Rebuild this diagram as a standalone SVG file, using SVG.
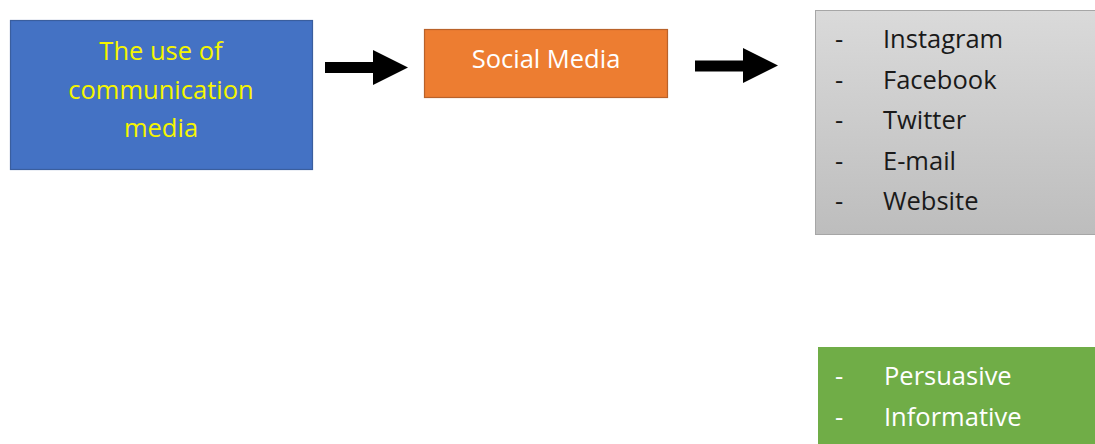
<svg xmlns="http://www.w3.org/2000/svg" width="1095" height="444" viewBox="0 0 1095 444">
<style>
text{font-family:"Open Sans","Liberation Sans",sans-serif;font-size:25.5px}
.c{text-anchor:middle}
.yel{fill:#F5F500}
.wht{fill:#FFFFFF}
.blk{fill:#1A1A1A}
</style>
<defs>
<linearGradient id="gray" x1="0" y1="0" x2="0" y2="1">
<stop offset="0" stop-color="#DADADA"/>
<stop offset="1" stop-color="#BDBDBD"/>
</linearGradient>
</defs>
<rect width="1095" height="444" fill="#FFFFFF"/>
<g id="node-communication">
<rect x="10.5" y="20.5" width="302" height="149" fill="#4472C4" stroke="#3A5E9E" stroke-width="1.2"/>
<text class="c yel" x="161" y="60">The use of</text>
<text class="c yel" x="161" y="99">communication</text>
<text class="c yel" x="161" y="137">media</text>
</g>
<g id="node-social">
<rect x="424.5" y="29.5" width="243" height="68" fill="#ED7D31" stroke="#B9622A" stroke-width="1.2"/>
<text class="c wht" x="546" y="68">Social Media</text>
</g>
<g id="node-platforms">
<rect x="815.5" y="10.5" width="285" height="224" fill="url(#gray)" stroke="#A6A6A6" stroke-width="1"/>
<text class="blk" x="835" y="48">-</text><text class="blk" x="883" y="48">Instagram</text>
<text class="blk" x="835" y="89">-</text><text class="blk" x="883" y="89">Facebook</text>
<text class="blk" x="835" y="129">-</text><text class="blk" x="883" y="129">Twitter</text>
<text class="blk" x="835" y="170">-</text><text class="blk" x="883" y="170">E-mail</text>
<text class="blk" x="835" y="210">-</text><text class="blk" x="883" y="210">Website</text>
</g>
<g id="node-types">
<rect x="818" y="347" width="280" height="100" fill="#70AD47"/>
<text class="wht" x="835" y="385">-</text><text class="wht" x="884" y="385">Persuasive</text>
<text class="wht" x="835" y="426">-</text><text class="wht" x="884" y="426">Informative</text>
</g>
<g id="connectors" fill="#000000">
<polygon points="325,62 373,62 373,50 408,67.5 373,85 373,73 325,73"/>
<polygon points="695,60.5 743,60.5 743,48 778,65.5 743,83 743,71.5 695,71.5"/>
</g>
</svg>
